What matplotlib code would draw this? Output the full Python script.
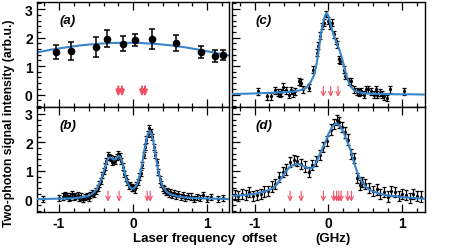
import numpy as np
import matplotlib
matplotlib.use("Agg")
import matplotlib.pyplot as plt
from matplotlib.ticker import MultipleLocator

plt.rcParams['font.family'] = ['Liberation Sans', 'DejaVu Sans']
plt.rcParams['font.weight'] = 'bold'
plt.rcParams['axes.linewidth'] = 1.0
plt.rcParams['axes.unicode_minus'] = False

# ---- panel (a): coarse scan, big error bars
a_x = [-1.04, -0.84, -0.50, -0.35, -0.14, 0.02, 0.25, 0.58, 0.92, 1.10, 1.22]
a_y = [1.49, 1.53, 1.67, 1.96, 1.79, 1.92, 1.96, 1.82, 1.49, 1.35, 1.38]
a_err = [0.25, 0.3, 0.35, 0.3, 0.25, 0.22, 0.35, 0.28, 0.2, 0.22, 0.18]
a_fit_x = [-1.3, -1.1, -0.9, -0.7, -0.5, -0.3, -0.1, 0.1, 0.3, 0.5, 0.7, 0.9, 1.1, 1.3]
a_fit_y = [1.48, 1.58, 1.66, 1.73, 1.78, 1.81, 1.82, 1.81, 1.78, 1.73, 1.66, 1.57, 1.47, 1.37]
a_arrows = [-0.20, -0.15, 0.12, 0.16]

# ---- panel (b)
b_x = [-1.22, -1.0, -0.95, -0.92, -0.9, -0.87, -0.85, -0.82, -0.8, -0.78, -0.75, -0.73,
       -0.7, -0.68, -0.65, -0.63, -0.6, -0.58, -0.55, -0.53, -0.5, -0.48, -0.46, -0.44,
       -0.42, -0.40, -0.38, -0.36, -0.34, -0.32, -0.30, -0.28, -0.26, -0.24, -0.22, -0.20,
       -0.18, -0.16, -0.14, -0.12, -0.10, -0.08, -0.06, -0.04, -0.02, 0.0, 0.02, 0.04,
       0.06, 0.08, 0.10, 0.12, 0.14, 0.16, 0.18, 0.20, 0.22, 0.24, 0.26, 0.28,
       0.30, 0.32, 0.34, 0.36, 0.38, 0.40, 0.42, 0.44, 0.46, 0.48, 0.50, 0.52,
       0.55, 0.58, 0.61, 0.64, 0.67, 0.70, 0.74, 0.78, 0.82, 0.86, 0.90, 0.94,
       1.0, 1.05, 1.14, 1.22]
b_y = [0.02, 0.05, 0.1, 0.15, 0.12, 0.05, 0.1, 0.18, 0.08, 0.12, 0.15, 0.05,
       0.1, 0.0, 0.08, 0.12, 0.05, 0.15, 0.22, 0.18, 0.3, 0.4, 0.55, 0.65,
       0.85, 1.0, 1.15, 1.35, 1.55, 1.5, 1.45, 1.3, 1.4, 1.35, 1.5, 1.58,
       1.52, 1.35, 1.15, 0.9, 0.75, 0.6, 0.48, 0.5, 0.42, 0.4, 0.35, 0.5,
       0.6, 0.8, 0.92, 1.2, 1.55, 1.85, 2.1, 2.3, 2.5, 2.35, 2.2, 1.85,
       1.55, 1.3, 0.95, 0.7, 0.55, 0.4, 0.35, 0.25, 0.3, 0.2, 0.25, 0.15,
       0.22, 0.12, 0.18, 0.08, 0.15, 0.05, 0.12, 0.1, 0.02, 0.08, 0.05, 0.15,
       0.02, 0.08, 0.0, 0.05]
b_err = 0.11
b_fit_x = [-1.3, -1.1, -0.9, -0.8, -0.7, -0.6, -0.55, -0.5, -0.45, -0.4, -0.375, -0.35,
           -0.325, -0.3, -0.275, -0.25, -0.225, -0.2, -0.175, -0.15, -0.125, -0.1, -0.075,
           -0.05, -0.025, 0.0, 0.025, 0.05, 0.075, 0.1, 0.125, 0.15, 0.175, 0.2, 0.225,
           0.25, 0.275, 0.3, 0.325, 0.35, 0.375, 0.4, 0.45, 0.5, 0.6, 0.7, 0.8, 1.0, 1.3]
b_fit_y = [0.01, 0.02, 0.03, 0.04, 0.07, 0.12, 0.2, 0.33, 0.58, 0.95, 1.15, 1.38,
           1.47, 1.47, 1.42, 1.39, 1.45, 1.52, 1.50, 1.33, 1.05, 0.78, 0.58,
           0.45, 0.38, 0.37, 0.42, 0.52, 0.72, 0.95, 1.3, 1.7, 2.05, 2.3, 2.4,
           2.3, 2.0, 1.6, 1.2, 0.88, 0.62, 0.45, 0.27, 0.18, 0.1, 0.07, 0.05, 0.03, 0.01]
b_arrows = [-0.34, -0.19, 0.19, 0.23]

# ---- panel (c)
c_x = [-0.95, -0.83, -0.78, -0.72, -0.69, -0.66, -0.64, -0.61, -0.57, -0.54, -0.51, -0.48,
       -0.45, -0.40, -0.37, -0.34, -0.27, -0.21, -0.16, -0.14, -0.12, -0.09, -0.06, -0.04,
       -0.01, 0.02, 0.05, 0.07, 0.10, 0.12, 0.14, 0.16, 0.21, 0.23, 0.28, 0.31,
       0.34, 0.38, 0.41, 0.44, 0.48, 0.51, 0.53, 0.57, 0.61, 0.64, 0.66, 0.70,
       0.73, 0.75, 0.79, 0.83, 1.02]
c_y = [0.12, -0.06, -0.06, 0.15, 0.06, 0.02, 0.08, 0.27, 0.15, 0.0, 0.15, 0.04,
       0.12, 0.47, 0.41, 0.18, 0.24, 0.88, 1.47, 1.71, 2.06, 2.41, 2.53, 2.83,
       2.59, 2.41, 2.53, 2.12, 1.88, 1.77, 1.24, 1.18, 0.88, 0.65, 0.47, 0.47,
       0.18, 0.12, 0.06, 0.12, 0.0, 0.18, 0.18, 0.12, 0.0, 0.18, 0.0, 0.06,
       0.0, -0.06, -0.12, 0.18, 0.12]
c_err = 0.12
c_fit_x = [-1.3, -1.1, -0.9, -0.8, -0.7, -0.6, -0.5, -0.45, -0.4, -0.35, -0.3, -0.25,
           -0.2, -0.175, -0.15, -0.125, -0.1, -0.075, -0.05, -0.03, -0.01, 0.0, 0.025,
           0.05, 0.075, 0.1, 0.125, 0.15, 0.175, 0.2, 0.225, 0.25, 0.275, 0.3, 0.35,
           0.4, 0.45, 0.5, 0.6, 0.7, 0.9, 1.1, 1.3]
c_fit_y = [0.02, 0.03, 0.05, 0.06, 0.07, 0.08, 0.10, 0.12, 0.14, 0.18, 0.24, 0.40,
           0.65, 0.9, 1.25, 1.7, 2.15, 2.5, 2.75, 2.85, 2.82, 2.74, 2.5,
           2.25, 2.05, 1.88, 1.72, 1.55, 1.35, 1.1, 0.85, 0.6, 0.42, 0.28, 0.14,
           0.09, 0.06, 0.04, 0.03, 0.02, 0.01, 0.01, 0.0]
c_arrows = [-0.07, 0.03, 0.13]

# ---- panel (d)
d_x = [-1.27, -1.22, -1.17, -1.12, -1.07, -1.02, -0.97, -0.92, -0.87, -0.82, -0.77, -0.72,
       -0.67, -0.62, -0.57, -0.52, -0.47, -0.42, -0.37, -0.32, -0.27, -0.22, -0.17, -0.12,
       -0.07, -0.02, 0.03, 0.08, 0.11, 0.14, 0.18, 0.22, 0.26, 0.30, 0.34, 0.38,
       0.42, 0.46, 0.50, 0.55, 0.60, 0.65, 0.70, 0.75, 0.80, 0.85, 0.90, 0.95,
       1.00, 1.05, 1.10, 1.15, 1.20, 1.25]
d_y = [0.15, 0.12, 0.18, 0.14, 0.25, 0.12, 0.15, 0.2, 0.28, 0.3, 0.45, 0.55,
       0.78, 0.95, 1.05, 1.3, 1.38, 1.35, 1.25, 1.15, 0.95, 1.2, 1.35, 1.55,
       1.85, 2.05, 2.45, 2.65, 2.78, 2.7, 2.55, 2.35, 2.1, 1.6, 1.45, 0.75,
       0.5, 0.6, 0.55, 0.4, 0.3, 0.35, 0.18, 0.25, 0.1, 0.3, 0.25, 0.12,
       0.2, 0.15, 0.05, 0.18, 0.12, 0.1]
d_err = 0.18
d_fit_x = [-1.3, -1.2, -1.1, -1.0, -0.9, -0.8, -0.75, -0.7, -0.65, -0.6, -0.55, -0.5,
           -0.45, -0.4, -0.35, -0.3, -0.25, -0.2, -0.15, -0.1, -0.05, 0.0, 0.05, 0.1,
           0.15, 0.2, 0.25, 0.3, 0.35, 0.4, 0.45, 0.5, 0.55, 0.6, 0.7, 0.8, 0.9,
           1.0, 1.1, 1.2, 1.3]
d_fit_y = [0.12, 0.14, 0.16, 0.19, 0.25, 0.33, 0.40, 0.52, 0.70, 0.90, 1.07, 1.18,
           1.23, 1.24, 1.18, 1.11, 1.08, 1.13, 1.40, 1.70, 1.95, 2.3, 2.55, 2.67,
           2.6, 2.38, 2.05, 1.72, 1.25, 0.88, 0.62, 0.46, 0.35, 0.28, 0.19, 0.14, 0.11,
           0.08, 0.06, 0.04, 0.02]
d_arrows = [-0.52, -0.37, -0.07, 0.07, 0.11, 0.14, 0.17, 0.26, 0.31]

RED = '#f04e64'
BLUE = '#3a84c9'

fig = plt.figure(figsize=(4.73, 2.51), dpi=100)
ax_a = fig.add_axes([0.078, 0.5705, 0.407, 0.4175])
ax_c = fig.add_axes([0.4915, 0.5705, 0.406, 0.4175])
ax_b = fig.add_axes([0.078, 0.153, 0.407, 0.4175])
ax_d = fig.add_axes([0.4915, 0.153, 0.406, 0.4175])


def draw_arrows(ax, xs, bold=False):
    for x in xs:
        if bold:
            props = dict(arrowstyle='-|>,head_width=0.14,head_length=0.35', color=RED,
                         lw=1.4, shrinkA=0, shrinkB=0)
        else:
            props = dict(arrowstyle='->,head_width=0.15,head_length=0.3', color=RED,
                         lw=0.8, shrinkA=0, shrinkB=0)
        ax.annotate('', xy=(x, -0.08), xytext=(x, 0.29), arrowprops=props)


# fit lines + data
ax_a.plot(a_fit_x, a_fit_y, color=BLUE, lw=1.5, zorder=2)
ax_a.errorbar(a_x, a_y, yerr=a_err, fmt='o', color='black', ms=4.5,
              capsize=2.5, elinewidth=1.1, capthick=1.1, zorder=3)
draw_arrows(ax_a, a_arrows, bold=True)

for ax, fx, fy, x, y, err, arr in [(ax_b, b_fit_x, b_fit_y, b_x, b_y, b_err, b_arrows),
                                   (ax_c, c_fit_x, c_fit_y, c_x, c_y, c_err, c_arrows),
                                   (ax_d, d_fit_x, d_fit_y, d_x, d_y, d_err, d_arrows)]:
    ax.plot(fx, fy, color=BLUE, lw=1.5, zorder=3)
    ax.errorbar(x, y, yerr=err, fmt='o', color='black', ms=1.3,
                capsize=1.3, elinewidth=0.9, capthick=0.9, zorder=2)
    draw_arrows(ax, arr)

labels = {ax_a: '(a)', ax_b: '(b)', ax_c: '(c)', ax_d: '(d)'}
for ax, lab in labels.items():
    ax.set_xlim(-1.3, 1.3)
    ax.set_ylim(-0.43, 3.25)
    ax.xaxis.set_major_locator(MultipleLocator(1))
    ax.xaxis.set_minor_locator(MultipleLocator(0.2))
    ax.yaxis.set_major_locator(MultipleLocator(1))
    ax.yaxis.set_minor_locator(MultipleLocator(0.2))
    ax.tick_params(which='both', direction='in', top=True, right=False, width=0.9,
                   labelsize=10, pad=3)
    ax.tick_params(which='major', length=6)
    ax.tick_params(which='minor', length=3.2)
    ax.text(0.12, 0.83, lab, transform=ax.transAxes, fontsize=9.5,
            fontstyle='italic', fontweight='bold', va='center')

ax_a.tick_params(labelbottom=False)
ax_c.tick_params(labelbottom=False, labelleft=False)
ax_d.tick_params(labelleft=False)

fig.text(0.018, 0.51, 'Two-photon signal intensity (arb.u.)', rotation=90,
         ha='center', va='center', fontsize=8.8)
fig.text(133 / 473, 0.048, 'Laser frequency', ha='left', va='center', fontsize=9.5)
fig.text(241.5 / 473, 0.048, 'offset', ha='left', va='center', fontsize=9.5)
fig.text(315 / 473, 0.048, '(GHz)', ha='left', va='center', fontsize=9.5)

fig.savefig('out.png', dpi=100)
